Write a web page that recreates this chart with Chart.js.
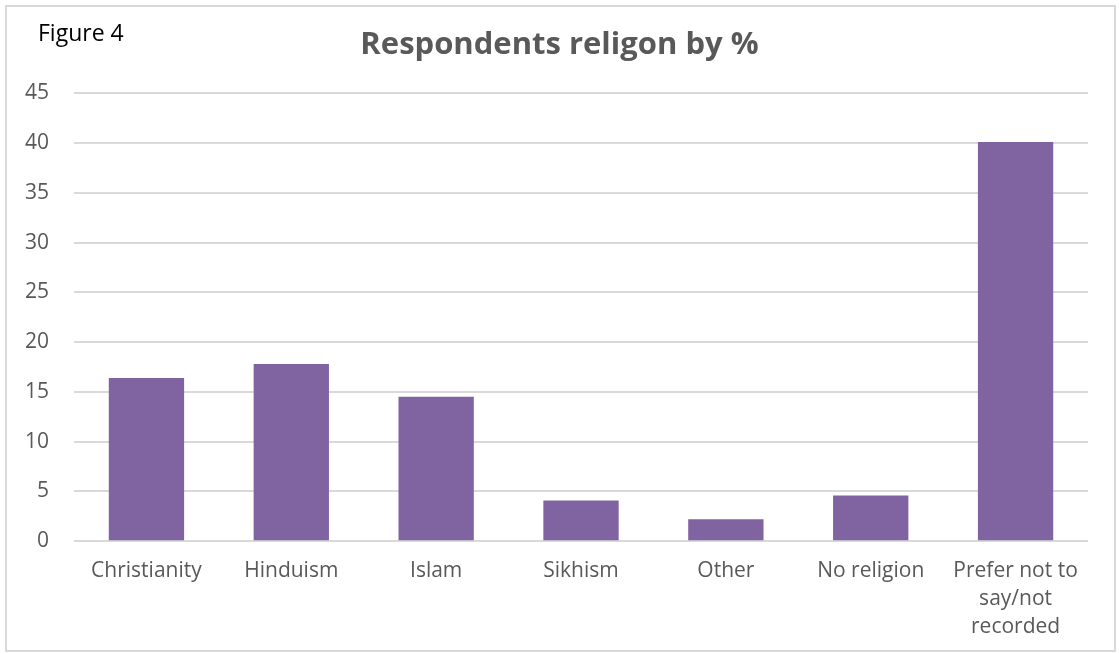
<!DOCTYPE html>
<html>
<head>
<meta charset="utf-8">
<script src="https://cdn.jsdelivr.net/npm/chart.js@4/dist/chart.umd.min.js"></script>
<style>
  html, body { margin: 0; padding: 0; background: #fff; }
  #wrap { position: relative; width: 1119px; height: 654px; }
  #frame {
    position: absolute; left: 5px; top: 5px; width: 1111px; height: 647px;
    box-sizing: border-box; border: 2px solid #d9d9d9; pointer-events: none;
  }
  #fig {
    position: absolute; left: 38px; top: 16px;
    font-family: "Open Sans", sans-serif; font-size: 23px; color: #000;
  }
  canvas { position: absolute; left: 0; top: 0; }
</style>
</head>
<body>
<div id="wrap">
  <canvas id="religionChart" width="1119" height="654"></canvas>
  <div id="frame"></div>
  <div id="fig">Figure 4</div>
</div>
<script>
const categories = ['Christianity', 'Hinduism', 'Islam', 'Sikhism', 'Other', 'No religion', ['Prefer not to', 'say/not', 'recorded']];
const percentages = [16.4, 17.8, 14.5, 4.1, 2.2, 4.6, 40.1];
const yTicks = [0, 5, 10, 15, 20, 25, 30, 35, 40, 45];

const grey = '#595959';

new Chart(document.getElementById('religionChart'), {
  type: 'bar',
  data: {
    labels: categories,
    datasets: [{
      label: 'Respondents',
      data: percentages,
      backgroundColor: '#8064A2',
      categoryPercentage: 1,
      barPercentage: 0.52,
    }]
  },
  options: {
    responsive: false,
    animation: false,
    layout: { padding: { left: 0, right: 0, top: 0, bottom: -3 } },
    plugins: {
      legend: { display: false },
      tooltip: { enabled: false },
      title: {
        display: true,
        text: 'Respondents religon by %',
        color: grey,
        font: { family: 'Open Sans', size: 31, weight: 'bold' },
        padding: { top: 27, bottom: 29 }
      }
    },
    scales: {
      y: {
        min: 0,
        max: yTicks[yTicks.length - 1],
        afterBuildTicks: axis => { axis.ticks = yTicks.map(v => ({ value: v })); },
        border: { display: false },
        grid: { color: '#d9d9d9', lineWidth: 2, drawTicks: false },
        ticks: { color: grey, padding: 25, font: { family: 'Open Sans', size: 21 } }
      },
      // empty right-hand axis, only keeps a margin so the title stays centred on the page
      spacer: {
        position: 'right',
        display: true,
        border: { display: false },
        grid: { display: false, drawTicks: false },
        ticks: { display: false },
        afterFit: axis => { axis.width = 31; }
      },
      x: {
        border: { display: false },
        grid: { display: false, drawTicks: false },
        ticks: {
          color: grey,
          padding: 16,
          maxRotation: 0,
          autoSkip: false,
          font: { family: 'Open Sans', size: 21, lineHeight: 1.33 }
        }
      }
    }
  }
});
</script>
</body>
</html>
